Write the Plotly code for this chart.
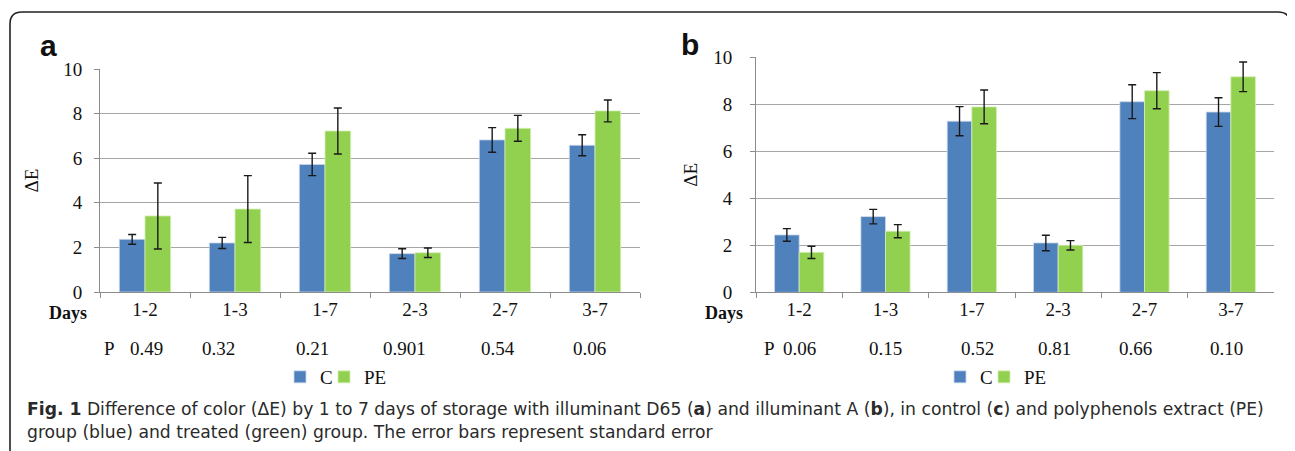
import plotly.graph_objects as go

# ---------------- data ----------------
categories = ["1-2", "1-3", "1-7", "2-3", "2-7", "3-7"]

a_C = [2.36, 2.20, 5.72, 1.72, 6.82, 6.58]
a_C_se = [0.22, 0.25, 0.50, 0.22, 0.55, 0.47]
a_PE = [3.41, 3.72, 7.22, 1.76, 7.34, 8.12]
a_PE_se = [1.48, 1.50, 1.03, 0.21, 0.58, 0.49]

b_C = [2.44, 3.22, 7.28, 2.10, 8.11, 7.67]
b_C_se = [0.27, 0.31, 0.62, 0.33, 0.72, 0.61]
b_PE = [1.70, 2.60, 7.89, 2.00, 8.58, 9.17]
b_PE_se = [0.26, 0.28, 0.72, 0.20, 0.77, 0.63]

p_a = ["0.49", "0.32", "0.21", "0.901", "0.54", "0.06"]
p_b = ["0.06", "0.15", "0.52", "0.81", "0.66", "0.10"]

y_ticks = [0, 2, 4, 6, 8, 10]

# ---------------- styles / layout positions ----------------
# page body has an 8px margin, so the figure is sized to the visible area
OFF = 8
W, H = 1295 - OFF, 451 - OFF
BLUE = "#4F81BD"
GREEN = "#92D050"
SERIF = "Liberation Serif"
INK = "#111"
p_a_shift = [0.02, -0.18, -0.14, -0.12, -0.08, -0.06]
p_b_shift = [0.0, 0.0, 0.07, -0.04, -0.10, -0.05]


def px(x):
    """screen x (pixels in the 1295-wide page) -> paper fraction"""
    return (x - OFF) / W


def py(y):
    """screen y (pixels from top of page) -> paper fraction"""
    return (H - (y - OFF)) / H


fig = go.Figure()

err_style = dict(type="data", thickness=1.4, width=4, color="#1a1a1a")
blue_marker = dict(color=BLUE, line=dict(color="#c9d7ea", width=0.8))
green_marker = dict(color=GREEN, line=dict(color="#d5efb5", width=0.8))

fig.add_trace(go.Bar(x=categories, y=a_C, name="C", marker=blue_marker,
                     error_y=dict(array=a_C_se, **err_style), xaxis="x", yaxis="y", legend="legend"))
fig.add_trace(go.Bar(x=categories, y=a_PE, name="PE", marker=green_marker,
                     error_y=dict(array=a_PE_se, **err_style), xaxis="x", yaxis="y", legend="legend2"))
fig.add_trace(go.Bar(x=categories, y=b_C, name="C", marker=blue_marker,
                     error_y=dict(array=b_C_se, **err_style), xaxis="x2", yaxis="y2", legend="legend3"))
fig.add_trace(go.Bar(x=categories, y=b_PE, name="PE", marker=green_marker,
                     error_y=dict(array=b_PE_se, **err_style), xaxis="x2", yaxis="y2", legend="legend4"))

grid = "#a6a6a6"
axis_common = dict(showline=True, linecolor="#8c8c8c", linewidth=1, ticks="outside", ticklen=5,
                   tickcolor="#8c8c8c", tickfont=dict(family=SERIF, size=19, color=INK),
                   automargin=False)

xa = dict(**axis_common, tickson="boundaries", showgrid=False, fixedrange=True)
ya = dict(**axis_common, range=[0, 10], tickvals=y_ticks, showgrid=True, gridcolor=grid, gridwidth=1,
          zeroline=False, fixedrange=True)

legend_common = dict(orientation="h", xanchor="left", y=py(377), yanchor="middle",
                     font=dict(family=SERIF, size=19, color=INK), itemwidth=30,
                     bgcolor="rgba(0,0,0,0)", borderwidth=0)

fig.update_layout(
    width=W, height=H,
    margin=dict(l=0, r=0, t=0, b=0, autoexpand=False),
    paper_bgcolor="white", plot_bgcolor="white",
    barmode="group", bargap=0.43, bargroupgap=0,
    xaxis=dict(**xa, domain=[px(100), px(640)], anchor="y"),
    yaxis=dict(**ya, domain=[py(292), py(69)], anchor="x", ticklabelstandoff=8,
               title=dict(text="ΔE", font=dict(family=SERIF, size=19, color=INK), standoff=19)),
    xaxis2=dict(**xa, domain=[px(756), px(1274)], anchor="y2"),
    yaxis2=dict(**ya, domain=[py(292.3), py(57.3)], anchor="x2", ticklabelstandoff=14,
                title=dict(text="ΔE", font=dict(family=SERIF, size=19, color=INK), standoff=10)),
    legend=dict(**legend_common, x=px(300 - 20)),
    legend2=dict(**legend_common, x=px(344 - 20)),
    legend3=dict(**legend_common, x=px(960 - 20)),
    legend4=dict(**legend_common, x=px(1004 - 20)),
    showlegend=True,
)


def label(text, x, y, size=19, family=SERIF, xref="paper", xanchor="center", color=INK):
    return dict(text=text, x=x, y=y, xref=xref, yref="paper", xanchor=xanchor, yanchor="middle",
                showarrow=False, font=dict(family=family, size=size, color=color))


ann = []
# panel letters
ann.append(label("<b>a</b>", px(48), py(46), size=30, family="Liberation Sans"))
ann.append(label("<b>b</b>", px(690), py(44), size=30, family="Liberation Sans"))
# Days labels
ann.append(label("<b>Days</b>", px(68), py(313), size=18))
ann.append(label("<b>Days</b>", px(724), py(313), size=18))
# P rows
ann.append(label("P", -0.39, py(348), xref="x"))
ann.append(label("P", -0.34, py(348), xref="x2"))
for i, (pv, sh) in enumerate(zip(p_a, p_a_shift)):
    ann.append(label(pv, i + sh, py(348), xref="x"))
for i, (pv, sh) in enumerate(zip(p_b, p_b_shift)):
    ann.append(label(pv, i + sh, py(348), xref="x2"))
# caption
cap1 = ("<b>Fig. 1</b> Difference of color (ΔE) by 1 to 7 days of storage with illuminant D65 (<b>a</b>) and "
        "illuminant A (<b>b</b>), in control (<b>c</b>) and polyphenols extract (PE)")
cap2 = "group (blue) and treated (green) group. The error bars represent standard error"
ann.append(label(cap1, px(25), py(409), size=17.2, family="DejaVu Sans", xanchor="left", color="#2a2a2a"))
ann.append(label(cap2, px(25), py(432), size=17.2, family="DejaVu Sans", xanchor="left", color="#2a2a2a"))
fig.update_layout(annotations=ann)

# rounded frame (open at bottom)
L, T, R, Bm, rad = px(10), py(12), px(1290), -0.1, 12
rx, ry = rad / W, rad / H
path = (f"M {L},{Bm} L {L},{T - ry} Q {L},{T} {L + rx},{T} L {R - rx},{T} "
        f"Q {R},{T} {R},{T - ry} L {R},{Bm}")
fig.add_shape(type="path", path=path, xref="paper", yref="paper", line=dict(color="#222", width=1.6))

fig.write_html("out.html")
